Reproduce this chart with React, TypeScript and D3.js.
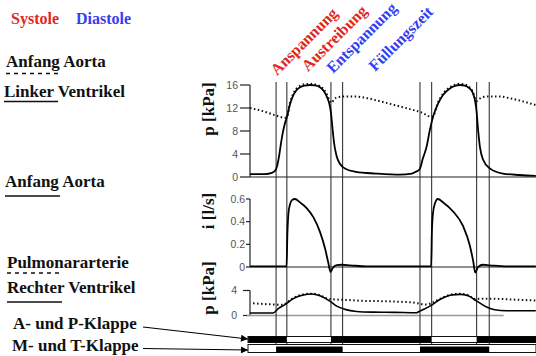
import React from "react";
import * as d3 from "d3";

// ---- data (time in ms) ----
const phaseNames = ["Anspannung", "Austreibung", "Entspannung", "Füllungszeit"];
const phaseSystole = [true, true, false, false];
const phaseLines = [145, 205, 450, 515, 945, 1010, 1260, 1330];

const pressureTicks = [0, 4, 8, 12, 16];
const flowTicks = [0, 0.2, 0.4, 0.6];
const rightTicks = [0, 4];

// Linker Ventrikel, p [kPa]
const lvPressure: [number, number][] = [
  [0, 0.5], [83, 0.5], [122, 0.7], [144, 1.3], [161, 3.5], [172, 5.8], [183, 7.8],
  [194, 9.3], [206, 10.5], [222, 12.6], [239, 14.1], [256, 15.0], [278, 15.6],
  [306, 15.9], [333, 16.0], [361, 15.95], [389, 15.6], [411, 14.9], [428, 13.9],
  [442, 12.6], [450, 11.2], [458, 8.7], [467, 6.0], [481, 3.7], [500, 2.3],
  [533, 1.4], [589, 0.9], [700, 0.6], [833, 0.4], [900, 0.6], [922, 0.9],
  [944, 1.4], [961, 3.2], [982, 5.3], [1000, 8.2], [1018, 10.5], [1046, 12.8],
  [1074, 14.3], [1111, 15.4], [1139, 15.85], [1167, 16.0], [1194, 15.9],
  [1217, 15.5], [1239, 14.6], [1253, 13.0], [1259, 11.6], [1268, 8.2],
  [1278, 5.3], [1296, 3.0], [1333, 1.5], [1406, 0.6], [1500, 0.35], [1589, 0.2],
];

// Anfang Aorta, p [kPa]
const aortaPressure: [number, number][] = [
  [0, 12.0], [67, 11.5], [144, 10.7], [194, 10.3], [206, 10.5], [222, 12.9],
  [239, 14.4], [256, 15.3], [278, 15.85], [306, 16.15], [333, 16.2], [361, 16.1],
  [389, 15.8], [411, 15.2], [428, 14.3], [444, 13.2], [453, 12.9], [467, 13.5],
  [489, 13.9], [528, 14.0], [583, 14.0], [639, 13.8], [706, 13.3], [794, 12.6],
  [889, 11.8], [956, 11.2], [1006, 10.5], [1018, 10.6], [1046, 13.0],
  [1074, 14.5], [1111, 15.6], [1139, 16.05], [1167, 16.2], [1194, 16.1],
  [1217, 15.7], [1239, 14.8], [1253, 13.6], [1261, 13.2], [1272, 13.5],
  [1294, 13.9], [1333, 14.0], [1389, 14.0], [1444, 13.7], [1511, 13.2], [1589, 12.5],
];

// Anfang Aorta, i [l/s]
const aortaFlow: [number, number][] = [
  [0, 0.005], [203, 0.005], [208, 0.3], [214, 0.48], [222, 0.55], [233, 0.59],
  [250, 0.6], [278, 0.57], [315, 0.52], [352, 0.44], [389, 0.31], [417, 0.165],
  [435, 0.04], [448, -0.045], [459, -0.01], [482, 0.017], [509, 0.02],
  [556, 0.015], [648, 0.005], [833, 0.005], [1007, 0.005], [1011, 0.3],
  [1017, 0.47], [1028, 0.56], [1044, 0.6], [1074, 0.57], [1129, 0.49],
  [1185, 0.36], [1222, 0.19], [1241, 0.05], [1252, -0.05], [1268, 0.0],
  [1296, 0.02], [1333, 0.015], [1426, 0.005], [1589, 0.005],
];

// Rechter Ventrikel, p [kPa]
const rvPressure: [number, number][] = [
  [0, 0.4], [128, 0.4], [157, 1.1], [194, 1.75], [241, 2.7], [296, 3.27],
  [343, 3.43], [389, 3.15], [444, 2.3], [482, 1.5], [528, 0.98], [593, 0.65],
  [685, 0.54], [806, 0.5], [926, 0.44], [944, 0.7], [1000, 1.5], [1056, 2.55],
  [1121, 3.27], [1167, 3.38], [1213, 3.15], [1259, 2.33], [1315, 1.36],
  [1361, 0.93], [1426, 0.77], [1589, 0.75],
];

// Pulmonalarterie, p [kPa]
const paPressure: [number, number][] = [
  [17, 1.95], [139, 1.75], [183, 1.7], [194, 1.85], [241, 2.8], [296, 3.37],
  [343, 3.5], [389, 3.25], [426, 2.75], [461, 2.6], [528, 2.5], [629, 2.35],
  [722, 2.3], [833, 2.2], [907, 2.07], [982, 1.75], [1017, 2.1], [1056, 2.65],
  [1121, 3.37], [1167, 3.48], [1213, 3.25], [1250, 2.65], [1315, 2.7],
  [1389, 2.65], [1463, 2.55], [1589, 2.4],
];

// Klappen geschlossen (ms)
const apClosed: [number, number][] = [[-10, 205], [450, 1010], [1260, 1590]];
const mtClosed: [number, number][] = [[145, 515], [945, 1330]];

// ---- layout ----
const W = 536;
const H = 356;
const RED = "#e0281e";
const BLUE = "#3440f0";
const SERIF = '"Liberation Serif", "Times New Roman", serif';
const SANS = '"Liberation Sans", Arial, sans-serif';

const phaseLabelPos = [[277, 76], [308, 72], [333, 74], [375, 72]];

export default function App() {
  const x = d3.scaleLinear().domain([0, 1590]).range([250, 536]);
  const y1 = d3.scaleLinear().domain([0, 16]).range([177, 85]);
  const y2 = d3.scaleLinear().domain([0, 0.6]).range([267, 199]);
  const y3 = d3.scaleLinear().domain([0, 4]).range([315.5, 290.5]);

  const mk = (y: d3.ScaleLinear<number, number>) =>
    d3
      .line<[number, number]>()
      .x((d) => x(d[0]))
      .y((d) => y(d[1]))
      .curve(d3.curveMonotoneX);

  const axisX = x(0);

  const leftLabel = (text: string, lx: number, ly: number) => (
    <text x={lx} y={ly} fontFamily={SERIF} fontWeight="bold" fontSize={17} fill="#111">
      {text}
    </text>
  );

  const yTicks = (
    scale: d3.ScaleLinear<number, number>,
    ticks: number[],
    tickLen: number,
    labelX: number
  ) =>
    ticks.map((t) => (
      <g key={t}>
        <line x1={axisX - tickLen} x2={axisX} y1={scale(t)} y2={scale(t)} stroke="#222" strokeWidth={1.2} />
        <text
          x={labelX}
          y={scale(t)}
          dy="0.35em"
          textAnchor="end"
          fontFamily={SANS}
          fontSize={10.5}
          fill="#555"
        >
          {String(t)}
        </text>
      </g>
    ));

  const valveBar = (closed: [number, number][], top: number, h: number, fillTop: number, fillH: number) => (
    <g>
      <rect x={axisX - 2} y={top} width={W - axisX + 2} height={h} fill="#fff" stroke="#111" strokeWidth={1} />
      {closed.map(([a, b], i) => (
        <rect
          key={i}
          x={Math.max(x(a), axisX - 2)}
          y={fillTop}
          width={Math.min(x(b), W) - Math.max(x(a), axisX - 2)}
          height={fillH}
          fill="#000"
        />
      ))}
    </g>
  );

  return (
    <div style={{ position: "absolute", left: 0, top: 0 }}>
      <svg width={W} height={H} viewBox={`0 0 ${W} ${H}`} style={{ display: "block", background: "#fff" }}>
        <defs>
          <marker id="arr" viewBox="0 0 10 10" refX={10} refY={5} markerWidth={9} markerHeight={7} orient="auto" markerUnits="userSpaceOnUse">
            <path d="M0,0 L10,5 L0,10 z" fill="#000" />
          </marker>
        </defs>

        {/* Systole / Diastole */}
        <text x={11} y={24} fontFamily={SERIF} fontWeight="bold" fontSize={16} fill={RED}>Systole</text>
        <text x={76} y={24} fontFamily={SERIF} fontWeight="bold" fontSize={16} fill={BLUE}>Diastole</text>

        {phaseNames.map((n, i) => (
          <text
            key={n}
            transform={`translate(${phaseLabelPos[i][0]},${phaseLabelPos[i][1]}) rotate(-45)`}
            fontFamily={SERIF}
            fontWeight="bold"
            fontSize={16}
            fill={phaseSystole[i] ? RED : BLUE}
          >
            {n}
          </text>
        ))}

        {/* left legend */}
        {leftLabel("Anfang Aorta", 6, 66.5)}
        <line x1={6} x2={60} y1={73.5} y2={73.5} stroke="#111" strokeWidth={1.5} strokeDasharray="4,4" />
        {leftLabel("Linker Ventrikel", 4, 96.5)}
        <line x1={4} x2={58} y1={101.5} y2={101.5} stroke="#111" strokeWidth={1.6} />
        {leftLabel("Anfang Aorta", 5, 186.5)}
        <line x1={5} x2={60} y1={196} y2={196} stroke="#111" strokeWidth={1.6} />
        {leftLabel("Pulmonararterie", 7, 267.5)}
        <line x1={7} x2={62} y1={273} y2={273} stroke="#111" strokeWidth={1.5} strokeDasharray="4,4" />
        {leftLabel("Rechter Ventrikel", 7, 293)}
        <line x1={7} x2={62} y1={302} y2={302} stroke="#111" strokeWidth={1.6} />
        {leftLabel("A- und P-Klappe", 13, 329)}
        {leftLabel("M- und T-Klappe", 12, 350.5)}
        <line x1={143} y1={327} x2={248} y2={339} stroke="#000" strokeWidth={1.2} markerEnd="url(#arr)" />
        <line x1={143} y1={348.5} x2={248} y2={350} stroke="#000" strokeWidth={1.2} markerEnd="url(#arr)" />

        {/* y-axis titles */}
        {[
          ["p [kPa]", 109],
          ["i [l/s]", 211],
          ["p [kPa]", 288],
        ].map(([t, cy], i) => (
          <text
            key={i}
            transform={`translate(214,${cy}) rotate(-90)`}
            textAnchor="middle"
            fontFamily={SERIF}
            fontWeight="bold"
            fontSize={17}
            fill="#111"
          >
            {t}
          </text>
        ))}

        {/* axes */}
        <line x1={axisX} x2={axisX} y1={y1(16)} y2={y1(0)} stroke="#222" strokeWidth={1.2} />
        {yTicks(y1, pressureTicks, 10, 238)}
        <line x1={axisX} x2={W} y1={y1(0)} y2={y1(0)} stroke="#222" strokeWidth={1.2} />

        <line x1={axisX} x2={axisX} y1={y2(0.6)} y2={y2(0)} stroke="#222" strokeWidth={1.2} />
        {yTicks(y2, flowTicks, 4, 245)}
        <line x1={axisX} x2={W} y1={y2(0)} y2={y2(0)} stroke="#222" strokeWidth={1.2} />

        <line x1={axisX} x2={axisX} y1={y3(4)} y2={y3(0)} stroke="#222" strokeWidth={1.2} />
        {yTicks(y3, rightTicks, 7, 237)}
        <line x1={axisX - 3} x2={x(1410)} y1={y3(0)} y2={y3(0)} stroke="#999" strokeWidth={1.5} />

        {/* phase lines */}
        {phaseLines.map((t) => (
          <line key={t} x1={x(t)} x2={x(t)} y1={82} y2={353} stroke="#222" strokeWidth={1} />
        ))}

        {/* curves */}
        <path d={mk(y1)(aortaPressure) ?? ""} fill="none" stroke="#111" strokeWidth={2} strokeDasharray="1.5,2.5" />
        <path d={mk(y1)(lvPressure) ?? ""} fill="none" stroke="#000" strokeWidth={1.8} />
        <path d={mk(y2)(aortaFlow) ?? ""} fill="none" stroke="#000" strokeWidth={1.8} />
        <path d={mk(y3)(paPressure) ?? ""} fill="none" stroke="#111" strokeWidth={2} strokeDasharray="1.5,2.5" />
        <path d={mk(y3)(rvPressure) ?? ""} fill="none" stroke="#000" strokeWidth={1.6} />

        {/* valves */}
        {valveBar(apClosed, 336.5, 6, 336.5, 6)}
        {valveBar(mtClosed, 344.5, 8, 346.5, 6)}
      </svg>
    </div>
  );
}
